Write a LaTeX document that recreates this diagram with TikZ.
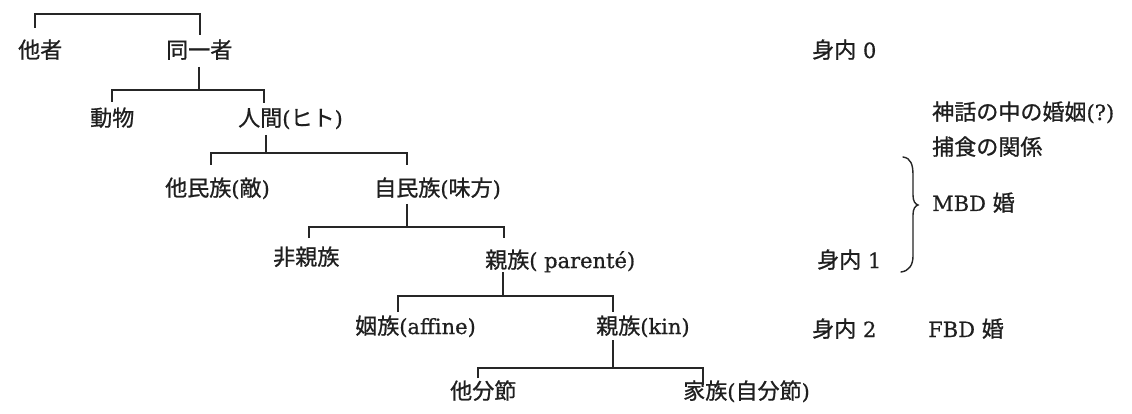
\documentclass[tikz,border=0pt]{standalone}
\usepackage{fontspec}
\setmainfont{DejaVu Serif}[FakeBold=0.6]
\newfontfamily\jp{Noto Sans CJK JP}[FakeBold=0.8,Scale=1.05]
\newcommand{\J}[1]{{\jp #1}}
\begin{document}
\begin{tikzpicture}[x=1pt,y=-1pt,
  lbl/.style={anchor=base west,inner sep=0pt,font=\fontsize{21}{21}\selectfont,text=black!88},
  tree/.style={line width=1.6pt,draw=black!85}]
\useasboundingbox[fill=white] (0,0) rectangle (1132,414);
% text nodes (x left, baseline = centre + 8)
\node[lbl] (tasha) at (18,58) {\J{他者}};
\node[lbl] (doitsu) at (166,58) {\J{同一者}};
\node[lbl] (dobutsu) at (90,126) {\J{動物}};
\node[lbl] (ningen) at (238,126) {\J{人間}(\J{ヒト})};
\node[lbl] (taminzoku) at (165,196) {\J{他民族}(\J{敵})};
\node[lbl] (jiminzoku) at (374,196) {\J{自民族}(\J{味方})};
\node[lbl] (hishinzoku) at (273,265) {\J{非親族}};
\node[lbl] (parente) at (485,268) {\J{親族}( parenté)};
\node[lbl] (affine) at (355,334) {\J{姻族}(affine)};
\node[lbl] (kin) at (596,334) {\J{親族}(kin)};
\node[lbl] (tabunsetsu) at (450,399) {\J{他分節}};
\node[lbl] (kazoku) at (683,399) {\J{家族}(\J{自分節})};
\node[lbl] (miuchi0) at (812,58) {\J{身内} 0};
\node[lbl] (shinwa) at (932,120) {\J{神話の中の婚姻}(?)};
\node[lbl] (hoshoku) at (932,155) {\J{捕食の関係}};
\node[lbl] (mbd) at (932,211) {MBD \J{婚}};
\node[lbl] (miuchi1) at (817,268) {\J{身内} 1};
\node[lbl] (miuchi2) at (812,337) {\J{身内} 2};
\node[lbl] (fbd) at (928,337) {FBD \J{婚}};
% tree junctions
\coordinate (l0a) at (35,28);  \coordinate (l0b) at (200,35); \coordinate (bar0) at (0,14);
\coordinate (s1t) at (199,67); \coordinate (bar1) at (0,90);
\coordinate (l1a) at (112,102); \coordinate (l1b) at (264,103);
\coordinate (s2t) at (266,135); \coordinate (bar2) at (0,153);
\coordinate (l2a) at (211,165); \coordinate (l2b) at (407,165);
\coordinate (s3t) at (407,204); \coordinate (bar3) at (0,227);
\coordinate (l3a) at (309,238); \coordinate (l3b) at (504,238);
\coordinate (s4t) at (503,272); \coordinate (bar4) at (0,296);
\coordinate (l4a) at (398,312); \coordinate (l4b) at (613,312);
\coordinate (s5t) at (613,340); \coordinate (bar5) at (0,368);
\coordinate (l5a) at (478,378); \coordinate (l5b) at (703,385);
% level 0
\draw[tree] (l0a) -- (l0a |- bar0) -- (l0b |- bar0) -- (l0b);
% level 1
\draw[tree] (s1t) -- (s1t |- bar1);
\draw[tree] (l1a) -- (l1a |- bar1) -- (l1b |- bar1) -- (l1b);
% level 2
\draw[tree] (s2t) -- (s2t |- bar2);
\draw[tree] (l2a) -- (l2a |- bar2) -- (l2b |- bar2) -- (l2b);
% level 3
\draw[tree] (s3t) -- (s3t |- bar3);
\draw[tree] (l3a) -- (l3a |- bar3) -- (l3b |- bar3) -- (l3b);
% level 4
\draw[tree] (s4t) -- (s4t |- bar4);
\draw[tree] (l4a) -- (l4a |- bar4) -- (l4b |- bar4) -- (l4b);
% level 5
\draw[tree] (s5t) -- (s5t |- bar5);
\draw[tree] (l5a) -- (l5a |- bar5) -- (l5b |- bar5) -- (l5b);
% brace
\draw[line width=1.4pt,draw=black!85,line cap=round]
  (903,157) .. controls (911,158) and (913,165) .. (913,175) -- (913,195)
  .. controls (913,201) and (915,204) .. (918,205)
  .. controls (915,206) and (913,209) .. (913,215) -- (913,256)
  .. controls (913,265) and (909,271) .. (901,272);
\end{tikzpicture}
\end{document}
